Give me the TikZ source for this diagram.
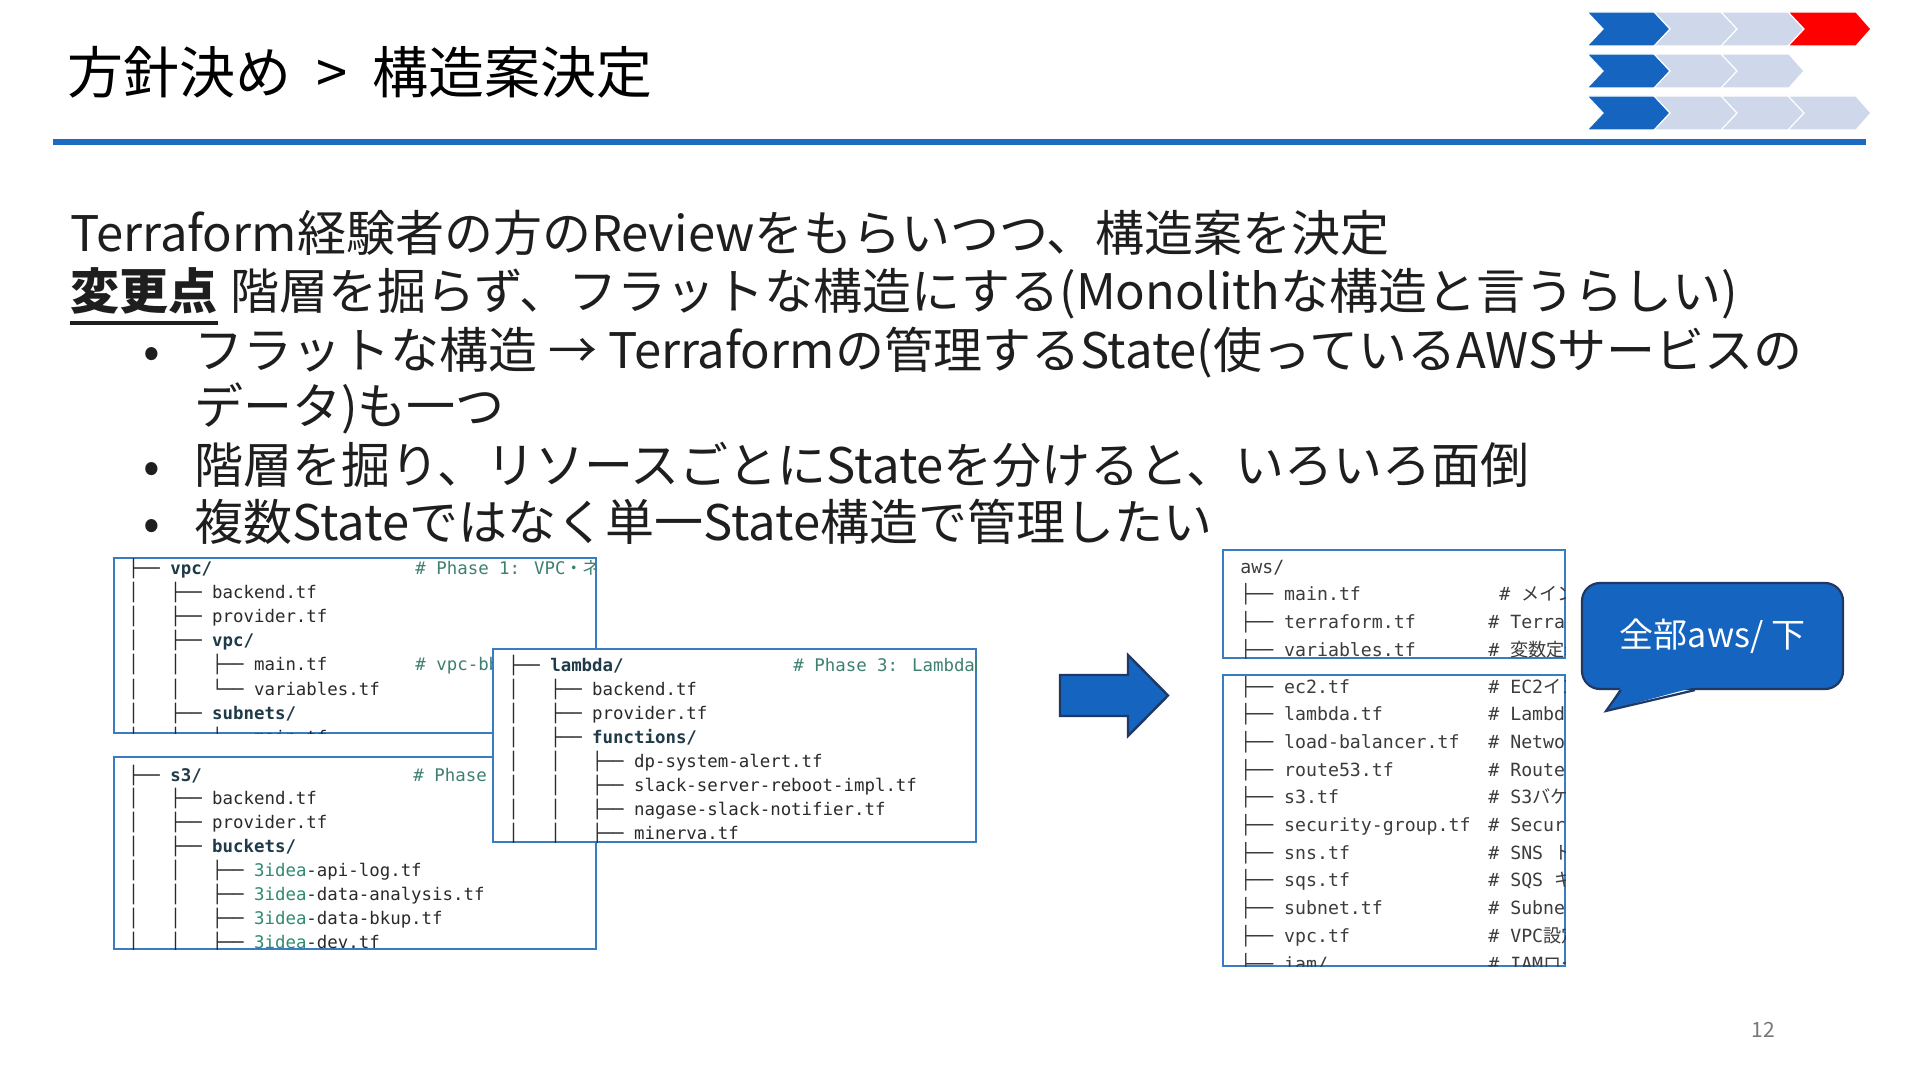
\documentclass[tikz,border=0pt]{standalone}
\usepackage{fontspec}
\setmainfont{Noto Sans CJK JP}
\newfontfamily\codefont{DejaVu Sans Mono}
\definecolor{lineblue}{HTML}{1B6CC1}
\definecolor{chblue}{HTML}{1565C0}
\definecolor{chlight}{HTML}{CFD8EA}
\definecolor{chred}{HTML}{FF0000}
\definecolor{navy}{HTML}{1F3864}
\definecolor{panelblue}{HTML}{3A7CC4}
\definecolor{ink}{HTML}{1E1E1E}
\definecolor{codeink}{HTML}{2A2A2A}
\definecolor{dirink}{HTML}{1F3A48}
\definecolor{cmtgreen}{HTML}{3D8070}
\definecolor{preteal}{HTML}{2E8A70}
\definecolor{awsink}{HTML}{3C3C3C}
\definecolor{pagegray}{HTML}{777777}
\newcommand\treebar{│\ \ \ }
\newcommand\dirname[1]{\textcolor{dirink}{\bfseries #1}}
\newcommand\prefx[1]{\textcolor{preteal}{#1}}
\begin{document}
\begin{tikzpicture}[x=0.5pt,y=-0.5pt,
  panel/.style={draw=panelblue,line width=0.8pt,fill=white},
  code/.style={anchor=base west,inner sep=0pt,text=codeink,font=\codefont\fontsize{8.7}{10}\selectfont},
  cmt/.style={code,text=cmtgreen},
  awscode/.style={code,text=awsink,font=\codefont\fontsize{9.1}{11}\selectfont},
  body/.style={anchor=base west,inner sep=0pt,text=ink,font=\fontsize{24.5}{30}\selectfont},
  chevron/.style={draw=white,line width=0.6pt},
  bubble/.style={rounded corners=9pt,fill=chblue,draw=navy,line width=1.1pt,minimum width=130.5pt,minimum height=53pt,inner sep=0pt,text=white,font=\fontsize{17}{20}\selectfont}]
\fill[white] (0,0) rectangle (1920,1080);
\useasboundingbox (0,0) rectangle (1920,1080);

% Header chevrons
\foreach \yy/\cols in {12/{chblue,chlight,chlight,chred},54/{chblue,chlight,chlight},96/{chblue,chlight,chlight,chlight}} {
  \foreach \c [count=\k from 0] in \cols {
    \filldraw[fill=\c,chevron] ({1587+67*\k},\yy) -- ++(68,0) -- ++(15,17) -- ++(-15,17) -- ++(-68,0) -- ++(16,-17) -- cycle;
  }
}

% Title and rule
\node[anchor=base west,inner sep=0pt,text=black,font=\fontsize{28}{33}\selectfont] (title) at (67,94) {方針決め\hspace{12.5pt}>\hspace{12.5pt}構造案決定};
\fill[lineblue] (53,139) rectangle (1866,145);

% Body text
\node[body] (intro) at (70,252) {Terraform経験者の方のReviewをもらいつつ、構造案を決定};
\node[body,font=\fontsize{24.5}{30}\selectfont\bfseries] (change) at (70,310) {変更点};
\draw[ink,line width=1.8pt] ([yshift=-6.5pt]change.base west) -- ([yshift=-6.5pt]change.base east);
\node[body] (flat) at (230,310) {階層を掘らず、フラットな構造にする(Monolithな構造と言うらしい)};
\foreach \yy/\t [count=\i] in {369/{フラットな構造 → Terraformの管理するState(使っているAWSサービスの},
    483/{階層を掘り、リソースごとにStateを分けると、いろいろ面倒},
    540/{複数Stateではなく単一State構造で管理したい}} {
  \node[body] (dot\i) at (143,\yy) {•};
  \node[body] (item\i) at (194,\yy) {\t};
}
\node[body] (cont) at (194,424) {データ)も一つ};

% vpc panel
\draw[panel] (114,558) rectangle (596,733);
\begin{scope}
\clip (114,558) rectangle (596,733);
\foreach \t/\c [count=\i from 0] in {
    {├── \dirname{vpc/}}/{\# Phase 1: VPC{\rmfamily ・ネットワーク}},
    {\treebar├── backend.tf}/{},
    {\treebar├── provider.tf}/{},
    {\treebar├── \dirname{vpc/}}/{},
    {\treebar\treebar├── main.tf}/{\# vpc-bb},
    {\treebar\treebar└── variables.tf}/{},
    {\treebar├── \dirname{subnets/}}/{},
    {\treebar\treebar├── main.tf}/{}} {
  \node[code] (vpc\i) at (128,{574+24.2*\i}) {\t};
  \node[cmt] (vpcc\i) at (415,{574+24.2*\i}) {\c};
}
\end{scope}

% s3 panel
\draw[panel] (114,757) rectangle (596,949);
\begin{scope}
\clip (114,757) rectangle (596,949);
\foreach \t/\c [count=\i from 0] in {
    {├── \dirname{s3/}}/{\# Phase},
    {\treebar├── backend.tf}/{},
    {\treebar├── provider.tf}/{},
    {\treebar├── \dirname{buckets/}}/{},
    {\treebar\treebar├── \prefx{3idea}-api-log.tf}/{},
    {\treebar\treebar├── \prefx{3idea}-data-analysis.tf}/{},
    {\treebar\treebar├── \prefx{3idea}-data-bkup.tf}/{},
    {\treebar\treebar├── \prefx{3idea}-dev.tf}/{}} {
  \node[code] (s3\i) at (128,{781+23.9*\i}) {\t};
  \node[cmt] (s3c\i) at (413,{781+23.9*\i}) {\c};
}
\end{scope}

% lambda panel (on top)
\draw[panel] (493,649) rectangle (976,842);
\begin{scope}
\clip (493,649) rectangle (976,842);
\foreach \t/\c [count=\i from 0] in {
    {├── \dirname{lambda/}}/{\# Phase 3: Lambda{\rmfamily 関数}},
    {\treebar├── backend.tf}/{},
    {\treebar├── provider.tf}/{},
    {\treebar├── \dirname{functions/}}/{},
    {\treebar\treebar├── dp-system-alert.tf}/{},
    {\treebar\treebar├── slack-server-reboot-impl.tf}/{},
    {\treebar\treebar├── nagase-slack-notifier.tf}/{},
    {\treebar\treebar├── minerva.tf}/{}} {
  \node[code] (lam\i) at (508,{671+24*\i}) {\t};
  \node[cmt] (lamc\i) at (793,{671+24*\i}) {\c};
}
\end{scope}

% Arrow
\draw[fill=chblue,draw=navy,line width=1.2pt] (1060,675) -- (1128,675) -- (1128,655) -- (1168,695.5) -- (1128,736) -- (1128,716) -- (1060,716) -- cycle;

% aws panels
\draw[panel] (1223,550) rectangle (1565,658);
\begin{scope}
\clip (1223,550) rectangle (1565,658);
\foreach \t/\c [count=\i from 0] in {
    {aws/}/{},
    {├── main.tf}/{\ \# {\rmfamily メイン}},
    {├── terraform.tf}/{\# Terraform},
    {├── variables.tf}/{\# {\rmfamily 変数定義}}} {
  \node[awscode] (top\i) at (1240,{573+27.7*\i}) {\t};
  \node[awscode] (topc\i) at (1488,{573+27.7*\i}) {\c};
}
\end{scope}
\draw[panel] (1223,675) rectangle (1565,966);
\begin{scope}
\clip (1223,675) rectangle (1565,966);
\foreach \t/\c [count=\i from 0] in {
    {ec2.tf}/{EC2{\rmfamily インスタンス}},
    {lambda.tf}/{Lambda},
    {load-balancer.tf}/{Network},
    {route53.tf}/{Route53},
    {s3.tf}/{S3{\rmfamily バケット}},
    {security-group.tf}/{Security},
    {sns.tf}/{SNS {\rmfamily トピック}},
    {sqs.tf}/{SQS {\rmfamily キュー}},
    {subnet.tf}/{Subnet},
    {vpc.tf}/{VPC{\rmfamily 設定}},
    {iam/}/{IAM{\rmfamily ロール}}} {
  \node[awscode] (flat\i) at (1240,{693+27.7*\i}) {├── \t};
  \node[awscode] (flatc\i) at (1488,{693+27.7*\i}) {\# \c};
}
\end{scope}

% Callout
\node[bubble] (note) at (1712.5,636) {全部aws/ 下};
\coordinate (tip) at (1606,711);
\fill[chblue] ([xshift=20pt,yshift=1.5pt]note.south west) -- (tip) -- ([xshift=57pt,yshift=1.5pt]note.south west) -- cycle;
\draw[navy,line width=1.1pt] ([xshift=20pt]note.south west) -- (tip) -- ([xshift=57pt]note.south west);

% Page number
\node[text=pagegray,font=\fontsize{10.5}{12}\selectfont] (page) at (1763,1030) {12};
\end{tikzpicture}
\end{document}
